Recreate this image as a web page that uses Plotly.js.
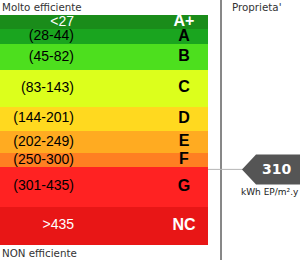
<!DOCTYPE html>
<html><head><meta charset="utf-8">
<script src="https://cdn.plot.ly/plotly-3.0.1.min.js"></script>
<style>html,body{margin:0;padding:0;background:#fff}#chart{width:300px;height:260px}</style>
</head><body><div id="chart"></div>
<script>
// Energy classes (top = most efficient)
const classes = ["A+", "A", "B", "C", "D", "E", "F", "G", "NC"];
const rangeLabels = ["<27", "(28-44)", "(45-82)", "(83-143)", "(144-201)", "(202-249)", "(250-300)", "(301-435)", ">435"];
const lowerBounds = [0, 28, 45, 83, 144, 202, 250, 301, 436];
const upperBounds = [27, 44, 82, 143, 201, 249, 300, 435, 600];
const bandWeight = [14.3, 14.7, 26, 36.7, 24, 22.6, 13.4, 40, 38.3];
const bandColors = ["#1a8c1a", "#1aa51f", "#4ddf1e", "#dcff1c", "#ffd91f", "#ffab21", "#ff7f22", "#ff2222", "#e81616"];
const textColors = ["#ffffff", "#000", "#000", "#000", "#000", "#000", "#000", "#000", "#ffffff"];
const letterColors = ["#ffffff", "#000", "#000", "#000", "#000", "#000", "#000", "#000", "#ffffff"];
const propertyValue = 310;
const unitLabel = "kWh EP/m².y";

// cumulative band positions
const starts = [], centers = [];
let acc = 0;
bandWeight.forEach(w => { starts.push(acc); centers.push(acc + w / 2); acc += w; });
const total = acc;

// locate the property value inside its band
let idx = classes.length - 1;
for (let i = 0; i < classes.length; i++) { if (propertyValue <= upperBounds[i]) { idx = i; break; } }
const frac = (propertyValue - lowerBounds[idx]) / (upperBounds[idx] - lowerBounds[idx]);
const py = starts[idx] + frac * bandWeight[idx];

const BAR_W = 208;
const traces = [
  { type: "bar", orientation: "h", x: classes.map(() => 1), y: centers, width: bandWeight, base: 0,
    marker: { color: bandColors, line: { width: 0 } }, xaxis: "x", yaxis: "y", hoverinfo: "skip" },
  { type: "scatter", mode: "text", x: classes.map(() => 74 / BAR_W), y: centers, text: rangeLabels,
    textposition: "middle left", textfont: { family: "Liberation Sans, Arial", size: 14, color: textColors },
    xaxis: "x", yaxis: "y", hoverinfo: "skip" },
  { type: "scatter", mode: "text", x: classes.map(() => 184 / BAR_W), y: centers, text: classes.map(c => "<b>" + c + "</b>"),
    textposition: "middle center", textfont: { family: "Liberation Sans, Arial", size: 16, color: letterColors },
    xaxis: "x", yaxis: "y", hoverinfo: "skip" },
  { type: "scatter", mode: "markers", x: [], y: [], xaxis: "x2", yaxis: "y", hoverinfo: "skip" }
];

const layout = {
  width: 300, height: 260, margin: { l: 0, r: 0, t: 0, b: 0 },
  paper_bgcolor: "#fff", plot_bgcolor: "rgba(0,0,0,0)", showlegend: false, bargap: 0,
  xaxis: { domain: [0, BAR_W / 300], range: [0, 1], visible: false, fixedrange: true, anchor: "y" },
  xaxis2: { domain: [0, 1], range: [0, 300], visible: false, anchor: "y", fixedrange: true },
  yaxis: { domain: [0, 1], range: [total + 15, -15], visible: false, fixedrange: true },
  shapes: [
    { type: "line", xref: "x2", yref: "paper", x0: 221, x1: 221, y0: 0, y1: 1, line: { color: "#111", width: 1 } },
    { type: "line", xref: "x2", yref: "y", x0: 208, x1: 246, y0: py, y1: py, line: { color: "#b4b4b4", width: 1 } },
    { type: "path", xref: "x2", yref: "y",
      path: `M 242 ${py} L 256 ${py - 15} L 300 ${py - 15} L 300 ${py + 15} L 256 ${py + 15} Z`,
      fillcolor: "#555555", line: { width: 0 } }
  ],
  annotations: [
    { xref: "paper", yref: "paper", x: 0, y: 1 - 7 / 260, xanchor: "left", yanchor: "middle", showarrow: false,
      text: "Molto efficiente", font: { family: "DejaVu Sans", size: 10.3, color: "#333" } },
    { xref: "x2", yref: "paper", x: 230, y: 1 - 7 / 260, xanchor: "left", yanchor: "middle", showarrow: false,
      text: "Proprieta'", font: { family: "DejaVu Sans", size: 10.3, color: "#333" } },
    { xref: "paper", yref: "paper", x: 0, y: 7 / 260, xanchor: "left", yanchor: "middle", showarrow: false,
      text: "NON efficiente", font: { family: "DejaVu Sans", size: 10.3, color: "#333" } },
    { xref: "x2", yref: "y", x: 276, y: py, xanchor: "center", yanchor: "middle", showarrow: false,
      text: "<b>" + propertyValue + "</b>", font: { family: "DejaVu Sans", size: 14, color: "#fff" } },
    { xref: "x2", yref: "y", x: 239, y: py + 23, xanchor: "left", yanchor: "middle", showarrow: false,
      text: unitLabel, font: { family: "DejaVu Sans", size: 9, color: "#222" } }
  ]
};
Plotly.newPlot("chart", traces, layout, { staticPlot: true, displayModeBar: false });
</script></body></html>
